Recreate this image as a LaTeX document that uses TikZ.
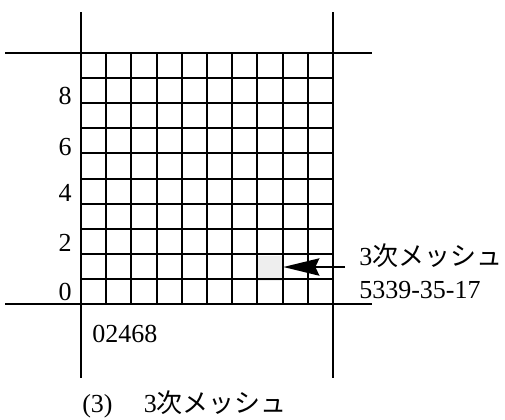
\documentclass[tikz,border=0pt]{standalone}
\usepackage{fontspec}
\setmainfont{Liberation Serif}
\newfontfamily\jpfont{Noto Sans CJK JP}
\usetikzlibrary{arrows.meta,positioning}

\begin{document}
\begin{tikzpicture}[x=0.75pt,y=-0.75pt,>=Stealth,
gridline/.style={line width=1.5pt},
frameline/.style={line width=1.2pt},
lbl/.style={font=\fontsize{19.5}{22}\selectfont,inner sep=0pt},
flow/.style={-{Stealth[length=27pt,width=13pt,inset=3pt]},line width=1.2pt}]
\useasboundingbox (0,0) rectangle (505,419);
\node[fill=gray!13,inner sep=0pt,minimum width=18.9pt,minimum height=18.8pt] (cell) at (270.5,268.5) {};
\foreach \i in {0,...,10}{
  \draw[gridline] ({81+25.2*\i},53) -- ({81+25.2*\i},304);
  \draw[gridline] (81,{53+25.1*\i}) -- (333,{53+25.1*\i});
}
\draw[frameline] (5,53) -- (372,53);
\draw[frameline] (5,304) -- (372,304);
\draw[frameline] (81,12) -- (81,378);
\draw[frameline] (333,12) -- (333,378);
\foreach \v/\y in {8/96,6/147,4/193,2/243,0/292}
  \node[lbl,anchor=east] (row\v) at (72,\y) {\v};
\node[lbl,anchor=west] (cols) at (92,334) {02468};
\node[lbl,anchor=west] (meshname) at (359,256) {3{\jpfont 次メッシュ}};
\node[lbl,anchor=west] (meshcode) at (359,290) {5339-35-17};
\coordinate (tail) at (345,267);
\draw[flow] (tail) -- (cell.east |- tail);
\node[lbl,anchor=west] (caption) at (82,404) {(3)\hspace{1.2em}3{\jpfont 次メッシュ}};
\end{tikzpicture}
\end{document}
